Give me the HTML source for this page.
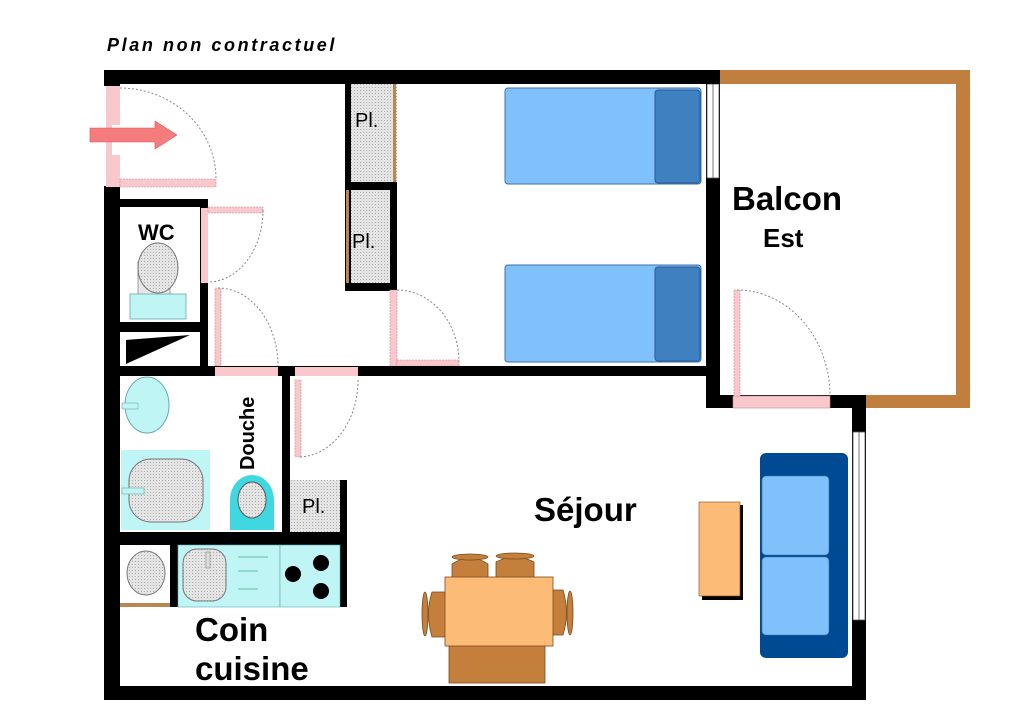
<!DOCTYPE html>
<html><head><meta charset="utf-8"><style>
html,body{margin:0;padding:0;background:#fff;width:1025px;height:710px;overflow:hidden}
text{font-family:"Liberation Sans",sans-serif;font-weight:bold}
</style></head><body>
<svg width="1025" height="710" viewBox="0 0 1025 710" xmlns="http://www.w3.org/2000/svg">
<defs>
<pattern id="dot" width="3" height="3" patternUnits="userSpaceOnUse"><rect width="3" height="3" fill="#e4e4e4"/><rect width="1" height="1" fill="#aaa"/></pattern>
</defs>
<text x="107" y="51" font-size="18" font-style="italic" letter-spacing="2.6">Plan non contractuel</text>

<!-- balcony -->
<path d="M720 70 H970 V408 H866 V395 H956 V84 H720 Z" fill="#c07f3e"/>
<rect x="706" y="70" width="14" height="338" fill="#000"/>
<rect x="707" y="84" width="12" height="94" fill="#fff" stroke="#555" stroke-width="0.8"/>
<line x1="713" y1="84" x2="713" y2="178" stroke="#555" stroke-width="0.8"/>
<rect x="706" y="395" width="160" height="13" fill="#000"/>
<rect x="733" y="396" width="97" height="12" fill="#f8c8cc" stroke="#c88" stroke-width="0.6"/>
<rect x="734" y="290" width="6" height="106" fill="#f8c8cc" stroke="#c88" stroke-width="0.6" stroke-dasharray="2 1"/>
<path d="M737 290 A93 106 0 0 1 830 396" fill="none" stroke="#888" stroke-width="1" stroke-dasharray="2 2"/>

<!-- outer walls -->
<rect x="104" y="70" width="616" height="14" fill="#000"/>
<rect x="104" y="70" width="16" height="630" fill="#000"/>
<rect x="104" y="686" width="762" height="14" fill="#000"/>
<rect x="852" y="395" width="14" height="305" fill="#000"/>
<rect x="853" y="432" width="12" height="188" fill="#fff" stroke="#555" stroke-width="0.8"/>
<line x1="859" y1="432" x2="859" y2="620" stroke="#555" stroke-width="0.8"/>
<!-- entry door -->
<rect x="104" y="86" width="16" height="100" fill="#fff"/>
<rect x="106" y="86" width="14" height="101" fill="#f8c8cc"/>
<rect x="112" y="125" width="8" height="30" fill="#fff"/>
<rect x="120" y="179" width="96" height="8" fill="#f8c8cc" stroke="#c88" stroke-width="0.6" stroke-dasharray="2 1"/>
<path d="M120 88 A96 91 0 0 1 216 179" fill="none" stroke="#888" stroke-width="1" stroke-dasharray="2 2"/>
<polygon points="90,128 155,128 155,121 177,135 155,149 155,142 90,142" fill="#f47c7c" stroke="#d55" stroke-width="0.6"/>

<!-- WC -->
<rect x="120" y="199" width="88" height="8" fill="#000"/>
<rect x="200" y="199" width="8" height="168" fill="#000"/>
<rect x="201" y="208" width="7" height="75" fill="#f8c8cc"/>
<rect x="208" y="207" width="55" height="6" fill="#f8c8cc" stroke="#c88" stroke-width="0.6" stroke-dasharray="2 1"/>
<path d="M263 210 A55 72 0 0 1 208 282" fill="none" stroke="#888" stroke-width="1" stroke-dasharray="2 2"/>
<text x="138" y="240" font-size="22">WC</text>
<rect x="138" y="262" width="32" height="33" fill="#e8e8e8" stroke="#888" stroke-width="0.8"/>
<ellipse cx="158" cy="268" rx="20" ry="25" fill="url(#dot)" stroke="#777"/>
<rect x="130" y="294" width="56" height="25" fill="#bff5f5" stroke="#6aa" stroke-width="0.8"/>
<rect x="120" y="322" width="88" height="10" fill="#000"/>
<polygon points="126,364 126,340 190,335" fill="#000"/>
<rect x="215" y="288" width="6" height="78" fill="#f8c8cc" stroke="#c88" stroke-width="0.6" stroke-dasharray="2 1"/>
<path d="M218 288 A60 78 0 0 1 278 366" fill="none" stroke="#888" stroke-width="1" stroke-dasharray="2 2"/>

<!-- closets -->
<rect x="345" y="84" width="52" height="206" fill="url(#dot)"/>
<rect x="345" y="84" width="6" height="206" fill="#000"/>
<rect x="345" y="182" width="52" height="8" fill="#000"/>
<rect x="345" y="283" width="52" height="8" fill="#000"/>
<rect x="390" y="182" width="7" height="108" fill="#000"/>
<rect x="393" y="84" width="3" height="98" fill="#b8864e"/>
<rect x="346" y="190" width="3" height="93" fill="#b8864e"/>
<text x="355" y="127" font-size="20" style="font-weight:normal">Pl.</text>
<text x="352" y="248" font-size="20" style="font-weight:normal">Pl.</text>
<rect x="390" y="290" width="7" height="76" fill="#f8c8cc" stroke="#c88" stroke-width="0.6" stroke-dasharray="2 1"/>
<rect x="397" y="360" width="62" height="6" fill="#f8c8cc" stroke="#c88" stroke-width="0.6" stroke-dasharray="2 1"/>
<path d="M397 290 A62 72 0 0 1 459 362" fill="none" stroke="#888" stroke-width="1" stroke-dasharray="2 2"/>

<!-- beds -->
<rect x="505" y="88" width="196" height="96" rx="3" fill="#80c0fb" stroke="#3a72a8"/>
<rect x="655" y="90" width="45" height="93" rx="3" fill="#3f80c0" stroke="#2a5a90"/>
<rect x="505" y="265" width="196" height="97" rx="3" fill="#80c0fb" stroke="#3a72a8"/>
<rect x="655" y="267" width="45" height="94" rx="3" fill="#3f80c0" stroke="#2a5a90"/>

<!-- bedroom bottom wall -->
<rect x="104" y="366" width="602" height="10" fill="#000"/>
<rect x="215" y="367" width="63" height="9" fill="#f8c8cc"/>
<rect x="295" y="367" width="63" height="9" fill="#f8c8cc"/>
<text x="732" y="210" font-size="33">Balcon</text>
<text x="763" y="247" font-size="26">Est</text>

<!-- bathroom -->
<rect x="282" y="376" width="8" height="170" fill="#000"/>
<rect x="295" y="380" width="6" height="77" fill="#f8c8cc" stroke="#c88" stroke-width="0.6" stroke-dasharray="2 1"/>
<path d="M358 380 A60 77 0 0 1 298 457" fill="none" stroke="#888" stroke-width="1" stroke-dasharray="2 2"/>
<ellipse cx="147" cy="405" rx="22" ry="28" fill="#bff5f5" stroke="#6aa"/>
<rect x="122" y="403" width="16" height="6" fill="#bff5f5" stroke="#6aa" stroke-width="0.6"/>
<rect x="121" y="450" width="89" height="80" fill="#bff5f5"/>
<rect x="129" y="459" width="74" height="63" rx="22" fill="url(#dot)" stroke="#777"/>
<rect x="122" y="488" width="22" height="6" fill="#bff5f5" stroke="#6aa" stroke-width="0.6"/>
<path d="M230 530 V500 A22 25 0 0 1 274 500 V530 Z" fill="#3fd8e0"/>
<ellipse cx="252" cy="500" rx="14" ry="18" fill="url(#dot)" stroke="#555"/>
<text transform="translate(254,470) rotate(-90)" font-size="20">Douche</text>
<rect x="290" y="480" width="50" height="52" fill="url(#dot)"/>
<text x="302" y="513" font-size="20" style="font-weight:normal">Pl.</text>
<rect x="340" y="480" width="7" height="127" fill="#000"/>
<rect x="120" y="532" width="227" height="13" fill="#000"/>

<!-- kitchen -->
<rect x="120" y="545" width="50" height="58" fill="#fff"/>
<ellipse cx="146" cy="573" rx="19" ry="22" fill="url(#dot)" stroke="#777"/>
<rect x="120" y="603" width="58" height="4" fill="#b8864e"/>
<rect x="170" y="545" width="8" height="62" fill="#000"/>
<rect x="178" y="545" width="102" height="62" fill="#bff5f5" stroke="#6aa" stroke-width="0.6"/>
<rect x="183" y="549" width="43" height="52" rx="14" fill="url(#dot)" stroke="#777"/>
<rect x="206" y="552" width="4" height="16" fill="#ddd" stroke="#777" stroke-width="0.5"/>
<line x1="238" y1="557" x2="268" y2="557" stroke="#4a8" stroke-width="0.8"/>
<line x1="238" y1="571" x2="258" y2="571" stroke="#4a8" stroke-width="0.8"/>
<line x1="238" y1="589" x2="258" y2="589" stroke="#4a8" stroke-width="0.8"/>
<rect x="280" y="545" width="60" height="62" fill="#bff5f5" stroke="#6aa" stroke-width="0.6"/>
<circle cx="293" cy="574" r="8" fill="#000"/>
<circle cx="321" cy="563" r="8" fill="#000"/>
<circle cx="321" cy="591" r="8" fill="#000"/>
<text x="195" y="641" font-size="33">Coin</text>
<text x="195" y="680" font-size="33">cuisine</text>

<!-- séjour -->
<text x="534" y="521" font-size="33">Séjour</text>
<!-- chairs -->
<rect x="449" y="640" width="96" height="43" fill="#c47f3c" stroke="#7a4a1c" stroke-width="0.8"/>
<path d="M452 580 V564 Q470 552 488 564 V580 Z" fill="#c47f3c" stroke="#7a4a1c" stroke-width="0.8"/>
<ellipse cx="470" cy="557" rx="18" ry="3" fill="#c47f3c" stroke="#7a4a1c" stroke-width="0.8"/>
<path d="M496 580 V562 Q515 552 534 562 V580 Z" fill="#c47f3c" stroke="#7a4a1c" stroke-width="0.8"/>
<ellipse cx="515" cy="556" rx="19" ry="3" fill="#c47f3c" stroke="#7a4a1c" stroke-width="0.8"/>
<path d="M448 592 H432 Q425 613 432 637 H448 Z" fill="#c47f3c" stroke="#7a4a1c" stroke-width="0.8"/>
<ellipse cx="425" cy="614" rx="3" ry="22" fill="#c47f3c" stroke="#7a4a1c" stroke-width="0.8"/>
<path d="M551 590 H563 Q570 613 563 635 H551 Z" fill="#c47f3c" stroke="#7a4a1c" stroke-width="0.8"/>
<ellipse cx="570" cy="613" rx="3" ry="22" fill="#c47f3c" stroke="#7a4a1c" stroke-width="0.8"/>
<rect x="445" y="577" width="108" height="69" fill="#fdbb78" stroke="#7a4a1c" stroke-width="0.8"/>
<!-- coffee table -->
<rect x="702" y="505" width="41" height="95" fill="#000"/>
<rect x="699" y="502" width="41" height="94" fill="#fdbb78" stroke="#7a4a1c" stroke-width="0.6"/>
<!-- sofa -->
<rect x="760" y="453" width="88" height="205" rx="6" fill="#004a94"/>
<rect x="762" y="476" width="67" height="79" rx="4" fill="#80c0fb" stroke="#3a72a8" stroke-width="0.6"/>
<rect x="762" y="557" width="67" height="78" rx="4" fill="#80c0fb" stroke="#3a72a8" stroke-width="0.6"/>
</svg>
</body></html>
